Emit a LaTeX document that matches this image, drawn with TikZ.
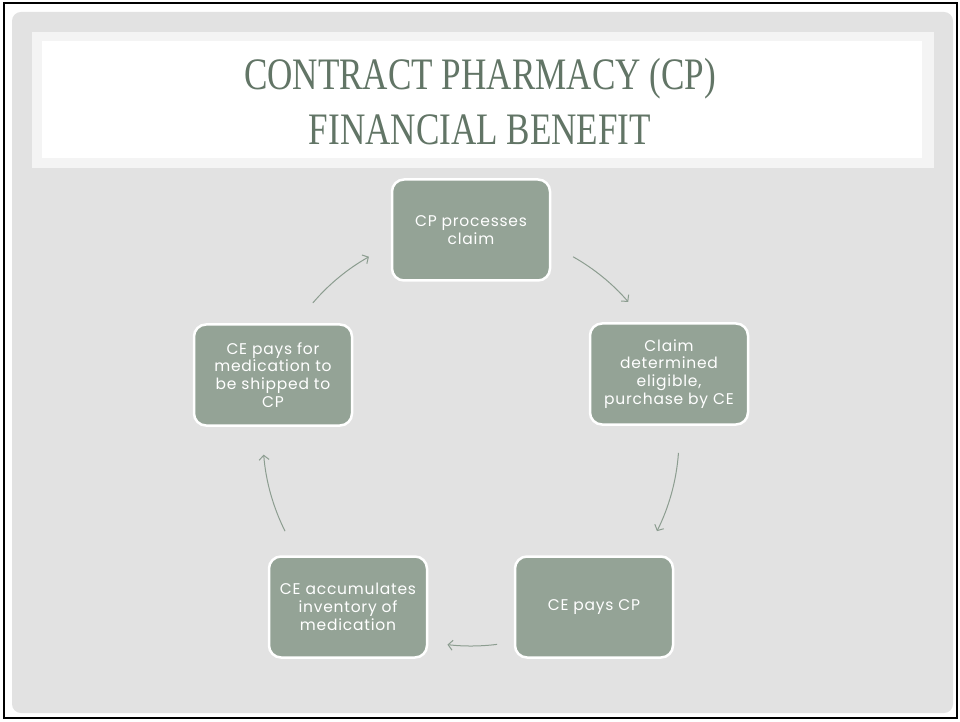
\documentclass[tikz,border=0pt]{standalone}
\usepackage{fontspec}
\setmainfont{Liberation Serif}
\newfontfamily\bodyfont{Poppins}[LetterSpace=5]
\usetikzlibrary{arrows.meta}
\definecolor{boxfill}{HTML}{94A396}
\definecolor{titlegreen}{HTML}{627566}
\definecolor{slidegray}{HTML}{E2E2E2}
\definecolor{framegray}{HTML}{F4F4F4}
\definecolor{arrowgreen}{HTML}{8C9D90}
\begin{document}
\begin{tikzpicture}[x=1pt,y=1pt,
  stepbox/.style={draw=white, line width=2.5pt, fill=boxfill,
    rounded corners=12pt, minimum width=158pt, minimum height=101pt,
    align=center, text=white, inner sep=2pt,
    font=\bodyfont\fontsize{15.5}{17.8}\selectfont},
  cyc/.style={draw=arrowgreen, line width=1pt,
    -{Straight Barb[length=4.5pt,width=10pt]}},
  titletext/.style={text=titlegreen, align=center,
    font=\fontsize{45}{55}\selectfont, xscale=0.78, transform shape}]
\useasboundingbox (0,0) rectangle (960,721);
\fill[white] (0,0) rectangle (960,721);
% slide frame and background
\draw[line width=2pt] (4,3) rectangle (957,718);
\fill[slidegray, rounded corners=9pt] (12,8) rectangle (953,709);
% title band
\fill[framegray] (32,553) rectangle (934,689);
\fill[white] (42,563) rectangle (922,680);
\node[titletext] (title) at (480,619) {CONTRACT PHARMACY (CP)\\FINANCIAL BENEFIT};
% cycle steps
\coordinate (C) at (471,283);
\node[stepbox] (s1) at (471,491) {CP processes\\claim};
\node[stepbox] (s2) at (669,347) {Claim\\determined\\eligible,\\purchase by CE};
\node[stepbox] (s3) at (594,114) {CE pays CP};
\node[stepbox] (s4) at (348,114) {CE accumulates\\inventory of\\medication};
\node[stepbox] (s5) at (273,346) {CE pays for\\medication to\\be shipped to\\CP};
% connecting arcs on the cycle circle
\draw[cyc] ([shift={(60.6:208)}]C) arc[start angle=60.6, end angle=40.9, radius=208];
\draw[cyc] ([shift={(-4.1:208)}]C) arc[start angle=-4.1, end angle=-26.6, radius=208];
\draw[cyc] ([shift={(-82.8:208)}]C) arc[start angle=-82.8, end angle=-96.5, radius=208];
\draw[cyc] ([shift={(-153.4:208)}]C) arc[start angle=-153.4, end angle=-175.4, radius=208];
\draw[cyc] ([shift={(139.5:208)}]C) arc[start angle=139.5, end angle=119.4, radius=208];
\end{tikzpicture}
\end{document}
